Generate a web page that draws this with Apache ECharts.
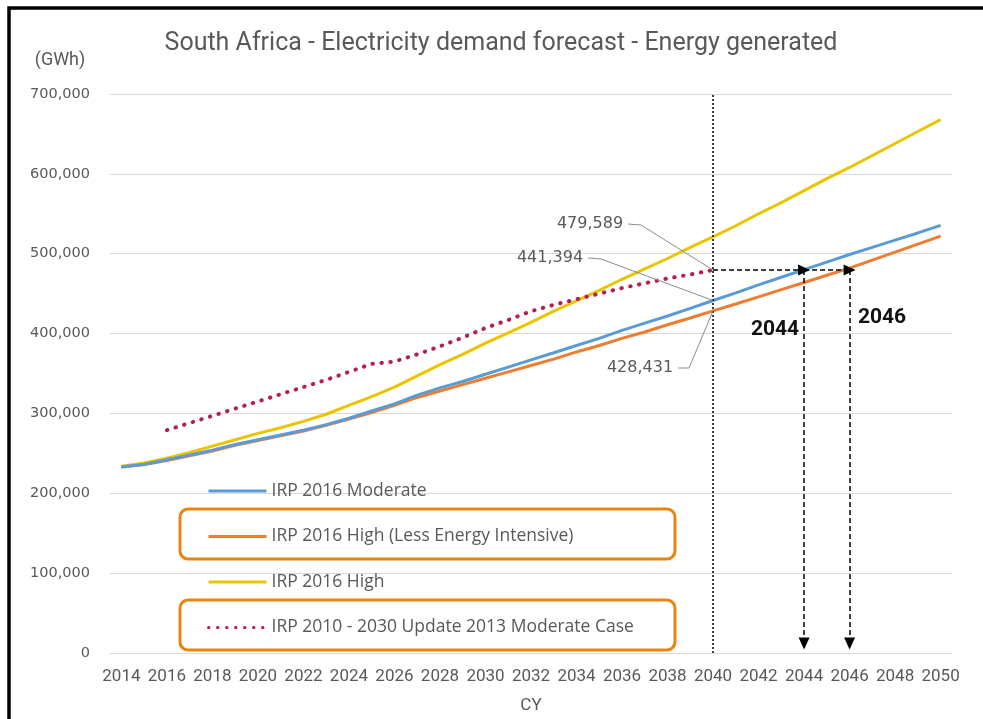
<!DOCTYPE html>
<html>
<head>
<meta charset="utf-8">
<script src="https://cdn.jsdelivr.net/npm/echarts@6/dist/echarts.min.js"></script>
<style>
html,body{margin:0;padding:0;background:#fff;}
#chart{width:983px;height:719px;}
</style>
</head>
<body>
<div id="chart"></div>
<script>
const years = ['2014','2015','2016','2017','2018','2019','2020','2021','2022','2023','2024','2025','2026','2027','2028','2029','2030','2031','2032','2033','2034','2035','2036','2037','2038','2039','2040','2041','2042','2043','2044','2045','2046','2047','2048','2049','2050'];

const seriesNames = ['IRP 2016 Moderate','IRP 2016 High (Less Energy Intensive)','IRP 2016 High','IRP 2010 - 2030 Update 2013 Moderate Case'];

const moderate = [233000,236000,242000,248000,254000,261000,267000,273000,279000,286000,294000,303000,312000,323000,332000,340000,349000,358000,367000,376000,385000,394000,404000,413000,422000,431500,441394,451000,461000,470500,480000,489500,499000,508000,517000,526000,535500];

const highLessIntensive = [233000,236000,241000,247000,253000,260000,266000,272000,278000,285000,293000,301000,310000,320000,328000,336000,344000,352000,360000,368000,377000,385000,394000,402000,411000,419500,428431,437000,446000,455000,464000,473000,482000,492000,502000,512000,522000];

const high = [234000,238000,244000,251000,259000,267000,275000,282000,290000,299000,310000,321000,333000,347000,361000,374000,388000,401000,414000,428000,441000,454000,468000,481000,494000,508000,521000,535000,550000,564000,579000,594000,608000,623000,638000,653000,668000];

const update2013 = [null,null,279000,288000,297000,306000,315000,324000,333000,342000,352000,362000,365000,374000,384000,395000,407000,417000,428000,436000,443000,450000,457000,463000,469000,474000,479589,null,null,null,null,null,null,null,null,null,null];

const yTicks = [0,100000,200000,300000,400000,500000,600000,700000];

// annotation values at 2040 and the years where the 2013 moderate case level is reached
const refYear = '2040';
const reachYears = ['2044','2046'];
const calloutValues = [479589, 441394, 428431];

const colors = ['#5B9BD5','#ED7D31','#EBC400','#B3204A'];
const txt = '#595959';

const chart = echarts.init(document.getElementById('chart'), null, {renderer:'canvas'});

const refLevel = calloutValues[0];
const arrowBottom = 12000;

const option = {
  animation: false,
  backgroundColor: '#fff',
  grid: {left:110, right:31, top:94, bottom:63},
  legend: {
    orient: 'vertical',
    left: 202,
    top: 476,
    itemWidth: 58,
    itemHeight: 20,
    itemGap: 25.5,
    itemStyle: {opacity: 0},
    lineStyle: {width: 3},
    data: seriesNames,
    textStyle: {color: txt, fontSize: 17.5, fontFamily: 'Open Sans', lineHeight: 20},
    selectedMode: false
  },
  xAxis: {
    type: 'category',
    data: years,
    boundaryGap: true,
    name: 'CY',
    nameLocation: 'middle',
    nameGap: 44,
    nameTextStyle: {color: txt, fontSize: 17, fontFamily: 'Roboto'},
    axisTick: {show:false},
    axisLine: {lineStyle:{color:'#D9D9D9', width:1}},
    axisLabel: {interval: 1, color: txt, fontSize: 17, fontFamily: 'Roboto', margin: 15}
  },
  yAxis: {
    type: 'value',
    min: yTicks[0],
    max: yTicks[yTicks.length-1],
    interval: yTicks[1]-yTicks[0],
    axisLine: {show:false},
    axisTick: {show:false},
    splitLine: {lineStyle:{color:'#D9D9D9', width:1}},
    axisLabel: {color: txt, fontSize: 14.5, fontFamily: 'DejaVu Sans', margin: 20,
      formatter: v => v.toLocaleString('en-US')}
  },
  series: [
    {name: seriesNames[0], type:'line', data: moderate, symbol:'none', z:4,
      lineStyle:{color:colors[0], width:3}, itemStyle:{color:colors[0]},
      markLine: {silent:true, symbol:['none','none'], label:{show:false},
        lineStyle:{color:'#000', width:1.5, type:[2,2]},
        data:[{xAxis: refYear}]}},
    {name: seriesNames[1], type:'line', data: highLessIntensive, symbol:'none', z:3,
      lineStyle:{color:colors[1], width:3}, itemStyle:{color:colors[1]}},
    {name: seriesNames[2], type:'line', data: high, symbol:'none', z:2,
      lineStyle:{color:colors[2], width:3}, itemStyle:{color:colors[2]}},
    {name: seriesNames[3], type:'line', data: update2013, symbol:'none', z:5,
      lineStyle:{color:colors[3], width:4, type:[0.5,8.5], cap:'round'}, itemStyle:{color:colors[3]},
      markLine: {silent:true, symbol:['none','triangle'], symbolSize:[11,12], label:{show:false},
        lineStyle:{color:'#000', width:1.5, type:[5,3]},
        data:[
          [{coord:[refYear, refLevel]},{coord:[reachYears[0], refLevel]}],
          [{coord:[reachYears[0], refLevel]},{coord:[reachYears[1], refLevel]}],
          [{coord:[reachYears[0], refLevel]},{coord:[reachYears[0], arrowBottom]}],
          [{coord:[reachYears[1], refLevel]},{coord:[reachYears[1], arrowBottom]}]
        ]}}
  ]
};
chart.setOption(option);

function px(year, v){ return chart.convertToPixel({gridIndex:0}, [year, v]); }
const pRed = px(refYear, calloutValues[0]);
const pBlue = px(refYear, calloutValues[1]);
const pOrange = px(refYear, calloutValues[2]);
const fmt = v => v.toLocaleString('en-US');
const lblFont = {fontSize: 16, fontFamily: 'DejaVu Sans', fill: txt};
const leader = {stroke:'#8c8c8c', lineWidth:1, fill:null};

chart.setOption({
  graphic: [
    {type:'rect', shape:{x:9, y:8, width:1000, height:1000}, style:{stroke:'#000', lineWidth:3.5, fill:null}, silent:true, z:100},
    {type:'text', x:501, y:44, style:{text:'South Africa - Electricity demand forecast - Energy generated', align:'center', verticalAlign:'middle', fontSize:25, fontFamily:'Roboto', fill:txt}},
    {type:'text', x:60, y:60, style:{text:'(GWh)', align:'center', verticalAlign:'middle', fontSize:18, fontFamily:'Roboto', fill:txt}},
    {type:'rect', shape:{x:180, y:509, width:495, height:50, r:8}, style:{stroke:'#E8850F', lineWidth:3, fill:null}, z:50},
    {type:'rect', shape:{x:180, y:600, width:495, height:50, r:8}, style:{stroke:'#E8850F', lineWidth:3, fill:null}, z:50},
    {type:'text', x:590, y:224, style:Object.assign({text:fmt(calloutValues[0]), align:'center', verticalAlign:'middle'}, lblFont), z:50},
    {type:'text', x:550, y:258, style:Object.assign({text:fmt(calloutValues[1]), align:'center', verticalAlign:'middle'}, lblFont), z:50},
    {type:'text', x:640, y:368, style:Object.assign({text:fmt(calloutValues[2]), align:'center', verticalAlign:'middle'}, lblFont), z:50},
    {type:'polyline', shape:{points:[[628,224],[641,225],pRed]}, style:leader, z:50},
    {type:'polyline', shape:{points:[[588,258],[601,259],pBlue]}, style:leader, z:50},
    {type:'polyline', shape:{points:[[678,368],[689,368],pOrange]}, style:leader, z:50},
    {type:'text', x:775, y:330, style:{text:reachYears[0], align:'center', verticalAlign:'middle', fontSize:21, fontWeight:'bold', fontFamily:'Roboto', fill:'#111'}, z:50},
    {type:'text', x:882, y:318, style:{text:reachYears[1], align:'center', verticalAlign:'middle', fontSize:21, fontWeight:'bold', fontFamily:'Roboto', fill:'#111'}, z:50}
  ]
});
</script>
</body>
</html>
